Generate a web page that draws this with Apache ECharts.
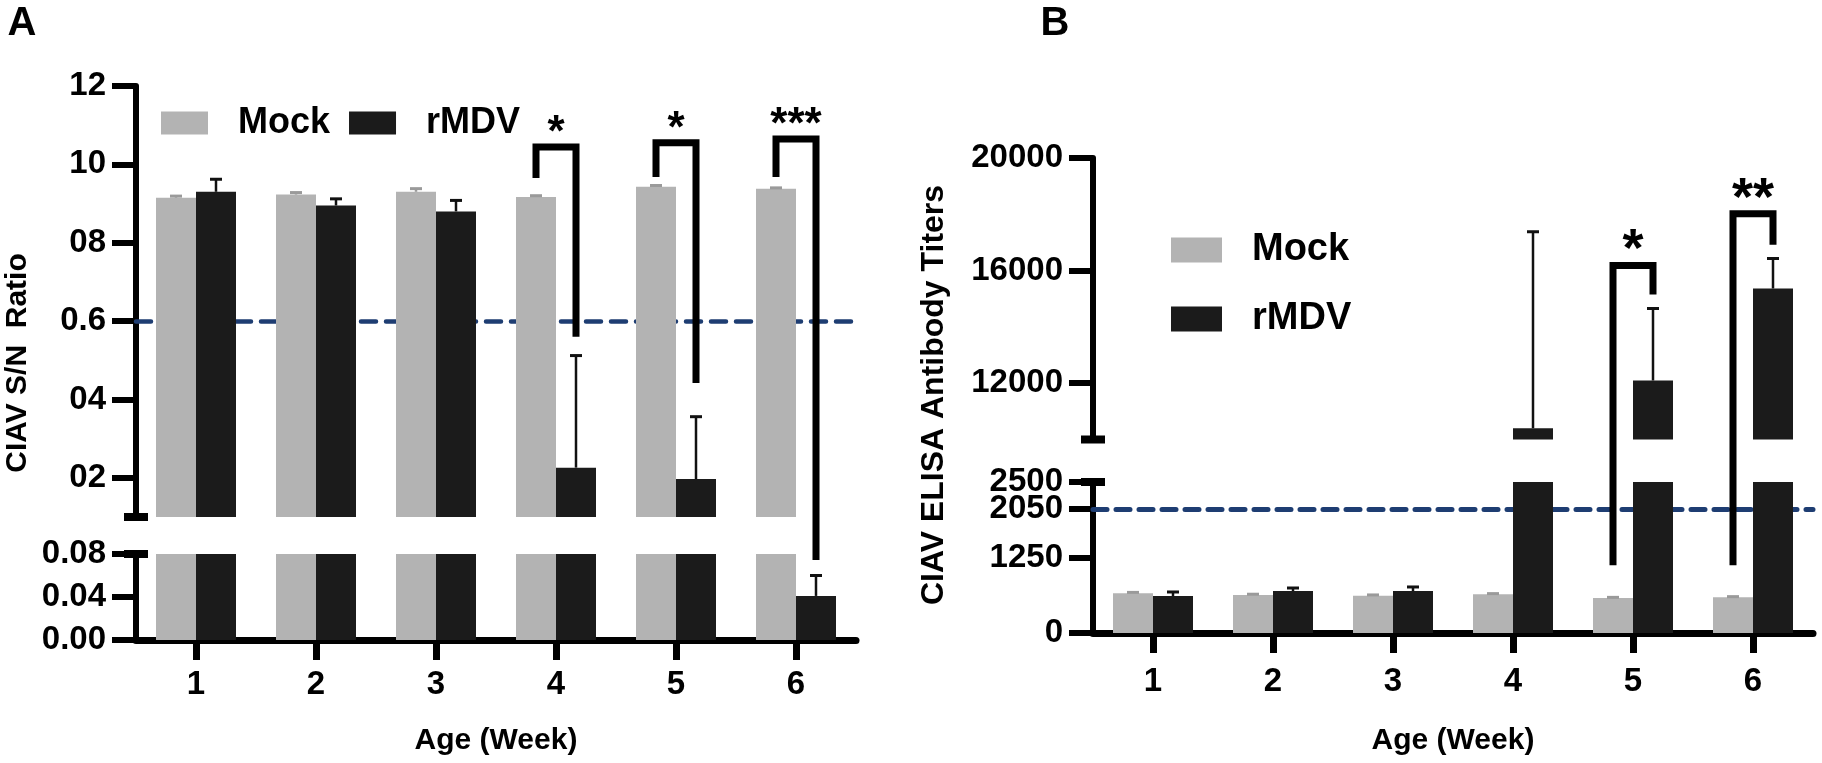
<!DOCTYPE html>
<html><head><meta charset="utf-8">
<script src="https://cdn.jsdelivr.net/npm/echarts@6/dist/echarts.min.js"></script>
<style>html,body{margin:0;padding:0;background:#fff;}#c{width:1822px;height:763px;}</style>
</head><body><div id="c"></div>
<script>
// ---------- data ----------
const weeks = ['1', '2', '3', '4', '5', '6'];
// Panel A: CIAV S/N ratio (mean and top of error bar)
const aMock = [0.915, 0.923, 0.930, 0.917, 0.943, 0.938];
const aMockErr = [0.919, 0.928, 0.938, 0.920, 0.946, 0.940];
const aRmdv = [0.930, 0.895, 0.880, 0.226, 0.197, 0.041];
const aRmdvErr = [0.962, 0.912, 0.908, 0.512, 0.356, 0.060];
const aCutoff = 0.6;
const aUpperTicks = [0.2, 0.4, 0.6, 0.8, 1.0, 1.2];
const aUpperLabels = ['02', '04', '0.6', '08', '10', '12'];
const aLowerTicks = [0, 0.04, 0.08];
const aLowerLabels = ['0.00', '0.04', '0.08'];
// brackets: [week index, bracket top, left leg bottom, right leg bottom, label]
const aBrackets = [[3, 1.044, 0.965, 0.560, '*'], [4, 1.055, 0.968, 0.442, '*'], [5, 1.065, 0.968, 0.0744, '***']];
// Panel B: CIAV ELISA antibody titers
const bMock = [660, 630, 615, 640, 578, 592];
const bMockErr = [672, 642, 630, 652, 590, 602];
const bRmdv = [613, 695, 695, 10400, 12100, 15360];
const bRmdvErr = [679, 745, 762, 17380, 14650, 16430];
const bCutoff = 2050;
const bUpperTicks = [12000, 16000, 20000];
const bLowerTicks = [0, 1250, 2500];
const bCutoffTick = [2050];
const bBrackets = [[4, 16180, 1120, 15150, '*'], [5, 18020, 1120, 16920, '**']];

// ---------- styles ----------
const FF = "'Liberation Sans', Arial, Helvetica, sans-serif";
const GRAY = '#b3b3b3', BLACK = '#1b1b1b', BLUE = '#1e3d72';
const grids = [
  {left: 136, width: 720, top: 86, height: 431},     // A upper
  {left: 136, width: 720, top: 554, height: 86},     // A lower
  {left: 1093, width: 720, top: 158, height: 281.5}, // B upper
  {left: 1093, width: 720, top: 482, height: 151}    // B lower
];
const yRanges = [[0.1, 1.2], [0, 0.08], [10000, 20000], [0, 2500]];
const yTicks = [aUpperTicks, aLowerTicks, bUpperTicks, bLowerTicks];
const yLabels = [aUpperLabels, aLowerLabels, null, null];

function labelFor(ticks, labels) {
  return function (v) {
    if (!labels) return String(Math.round(v));
    for (let i = 0; i < ticks.length; i++) if (Math.abs(ticks[i] - v) < 1e-9) return labels[i];
    return '';
  };
}

const xAxes = grids.map((g, i) => {
  const lower = (i % 2 === 1);
  return {
    type: 'category', gridIndex: i, data: weeks, show: lower,
    axisLine: {show: true, lineStyle: {color: '#000', width: 7}},
    axisTick: {show: true, alignWithLabel: true, length: 20, lineStyle: {color: '#000', width: 7}},
    axisLabel: {show: true, fontSize: 33, fontWeight: 'bold', fontFamily: FF, color: '#000', margin: i === 1 ? 28 : 32},
    name: lower ? 'Age (Week)' : '', nameLocation: 'middle', nameGap: i === 1 ? 86 : 93,
    nameTextStyle: {fontSize: 30, fontWeight: 'bold', fontFamily: FF, color: '#000'}
  };
});
function yAxisFor(gi, ticks, labels, showLine) {
  return {
    type: 'value', gridIndex: gi, min: yRanges[gi][0], max: yRanges[gi][1], position: 'left', offset: 0,
    splitLine: {show: false},
    axisLine: {show: showLine, onZero: false, lineStyle: {color: '#000', width: 6}},
    axisTick: {show: true, length: 24, customValues: ticks, lineStyle: {color: '#000', width: 6}},
    axisLabel: {show: true, customValues: ticks, formatter: labelFor(ticks, labels), fontSize: 33, fontWeight: 'bold',
      fontFamily: FF, color: '#000', margin: 30, showMaxLabel: true, showMinLabel: true, hideOverlap: false}
  };
}
const yAxes = grids.map((g, i) => yAxisFor(i, yTicks[i], yLabels[i], true));
// separate label axis for the 2050 cut-off so it is not hidden by its close neighbour 2500
yAxes.push(yAxisFor(3, bCutoffTick, null, false));

function errSeries(gi, mean, err, mock) {
  const data = mean.map((v, k) => [k, v, err[k]]);
  const [lo, hi] = yRanges[gi];
  const side = mock ? -1 : 1;
  const col = mock ? '#9a9a9a' : '#111';
  return {
    type: 'custom', name: (mock ? 'errMock' : 'errR') + gi, xAxisIndex: gi, yAxisIndex: gi, clip: true, z: 4,
    data: data, silent: true,
    renderItem: function (params, api) {
      const v = api.value(1), e = api.value(2);
      if (v < lo || e > hi || e < lo) return null;
      const band = api.size([1, 0])[0];
      const p0 = api.coord([api.value(0), v]);
      const p1 = api.coord([api.value(0), e]);
      const x = p0[0] + side * band / 6;
      return {type: 'group', children: [
        {type: 'line', shape: {x1: x, y1: p0[1], x2: x, y2: p1[1]}, style: {stroke: col, lineWidth: 2.5}},
        {type: 'line', shape: {x1: x - 6, y1: p1[1], x2: x + 6, y2: p1[1]}, style: {stroke: col, lineWidth: 3}}
      ]};
    }
  };
}

const series = [];
grids.forEach((g, i) => {
  const isA = i < 2;
  const mock = isA ? aMock : bMock, rm = isA ? aRmdv : bRmdv;
  const mockS = {
    type: 'bar', name: 'Mock', xAxisIndex: i, yAxisIndex: i, data: mock, barWidth: 40, barGap: '0%',
    itemStyle: {color: GRAY}, clip: true, silent: true, z: 2
  };
  if (i === 0 || i === 3) {
    mockS.markLine = {
      silent: true, symbol: 'none', z: 1, label: {show: false},
      lineStyle: {color: BLUE, width: i === 0 ? 4.5 : 5, type: i === 0 ? [15, 10] : [14, 9], cap: 'round'},
      data: [{yAxis: i === 0 ? aCutoff : bCutoff}]
    };
  }
  series.push(mockS);
  series.push({
    type: 'bar', name: 'rMDV', xAxisIndex: i, yAxisIndex: i, data: rm, barWidth: 40, barGap: '0%',
    itemStyle: {color: BLACK}, clip: true, silent: true, z: 2
  });
  series.push(errSeries(i, mock, isA ? aMockErr : bMockErr, true));
  series.push(errSeries(i, rm, isA ? aRmdvErr : bRmdvErr, false));
});

const option = {
  animation: false,
  backgroundColor: '#fff',
  grid: grids,
  xAxis: xAxes,
  yAxis: yAxes,
  legend: [
    {data: ['Mock', 'rMDV'], left: 156, top: 100, itemWidth: 47, itemHeight: 23, itemGap: 19, icon: 'rect',
      selectedMode: false, textStyle: {fontSize: 36, fontWeight: 'bold', fontFamily: FF, color: '#000', lineHeight: 36, padding: [0, 0, 0, 25]}},
    {data: ['Mock', 'rMDV'], orient: 'vertical', left: 1166, top: 226, itemWidth: 51, itemHeight: 25, itemGap: 31, icon: 'rect',
      selectedMode: false, textStyle: {fontSize: 38, fontWeight: 'bold', fontFamily: FF, color: '#000', lineHeight: 38, padding: [0, 0, 0, 25]}}
  ],
  series: series
};

const chart = echarts.init(document.getElementById('c'));
chart.setOption(option);

// ---------- annotations positioned through the chart's scales ----------
function px(gi, cat, val) { return chart.convertToPixel({gridIndex: gi}, [cat, val]); }
const gr = [];
function txt(text, x, y, fs, rot) {
  return {type: 'text', x: x, y: y, rotation: rot || 0, z: 20,
    style: {text: text, fontSize: fs, fontWeight: 'bold', fontFamily: FF, fill: '#000',
      align: 'center', verticalAlign: 'middle', textAlign: 'center', textVerticalAlign: 'middle'}};
}
function brackets(up, low, split, list, fs, starOff) {
  list.forEach(b => {
    const i = b[0];
    const c0 = px(up, i, b[1]);
    const band = c0[0] - px(up, i - 1, b[1])[0];
    const xl = c0[0] - band / 6, xr = c0[0] + band / 6;
    const yOf = v => (v >= split ? px(up, i, v) : px(low, i, v))[1];
    gr.push({type: 'polyline', z: 15, shape: {points: [[xl, yOf(b[2])], [xl, c0[1]], [xr, c0[1]], [xr, yOf(b[3])]]},
      style: {stroke: '#000', lineWidth: 7, fill: null, lineJoin: 'miter', lineCap: 'butt'}});
    gr.push(txt(b[4], c0[0], c0[1] - starOff, fs));
  });
}
brackets(0, 1, yRanges[0][0], aBrackets, 44, 13);
brackets(2, 3, yRanges[2][0], bBrackets, 54, 14);

// broken-axis end caps
function cap(gi, val) {
  const p = px(gi, 0, val);
  const band = px(gi, 1, val)[0] - p[0];
  const x = p[0] - band / 2;
  gr.push({type: 'line', z: 15, shape: {x1: x - 12, y1: p[1], x2: x + 12, y2: p[1]}, style: {stroke: '#000', lineWidth: 8}});
}
cap(0, yRanges[0][0]); cap(1, yRanges[1][1]); cap(2, yRanges[2][0]); cap(3, yRanges[3][1]);

// panel letters and y-axis titles
gr.push(txt('A', 22, 24, 40));
gr.push(txt('B', 1055, 24, 40));
gr.push(txt('CIAV S/N  Ratio', 18, 363, 30, Math.PI / 2));
gr.push(txt('CIAV ELISA Antibody Titers', 934, 395, 32, Math.PI / 2));

chart.setOption({graphic: gr});
</script></body></html>
